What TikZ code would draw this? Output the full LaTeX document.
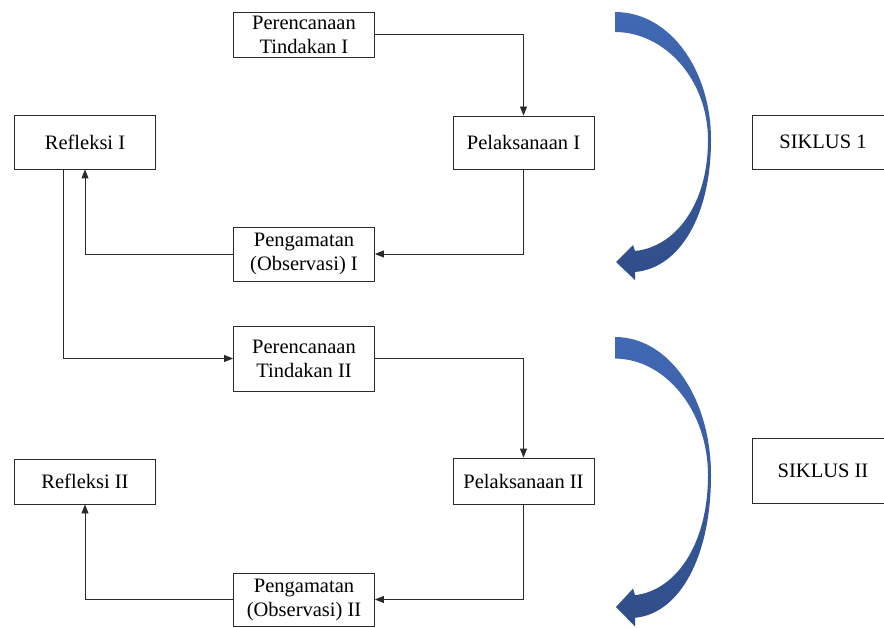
\documentclass[tikz,border=0pt]{standalone}
\usepackage{fontspec}
\setmainfont{Liberation Serif}
\definecolor{curvetop}{HTML}{4169B4}
\definecolor{curvebot}{HTML}{2F4D88}
\definecolor{edge}{HTML}{2A2A2A}
\usetikzlibrary{arrows.meta}
\newcommand{\cyclecurve}{(0,0) .. controls (55,0) and (96,58) .. (96,128) .. controls (96,203) and (65,256) .. (20,260) -- (20,268) -- (1,250) -- (18,233) -- (20,239) .. controls (60,235) and (93,193) .. (93,128) .. controls (93,68) and (50,20) .. (0,20) -- cycle}

\begin{document}
\begin{tikzpicture}[x=1pt, y=-1pt,
  box/.style={draw=edge, line width=0.8pt, minimum width=141pt, inner sep=0pt, align=center, font=\fontsize{20.5}{24}\selectfont},
  link/.style={draw=edge, line width=0.8pt, -{Triangle[length=9pt,width=7pt]}},
  curve/.style={top color=curvetop, bottom color=curvebot},
]
\useasboundingbox (0,0) rectangle (884,628);
\node[box, minimum height=45pt] (planI) at (304,34.5) {Perencanaan\\Tindakan I};
\node[box, minimum height=53pt] (actI) at (523.5,142.5) {Pelaksanaan I};
\node[box, minimum height=54pt] (reflI) at (85,142) {Refleksi I};
\node[box, minimum height=54pt] (obsI) at (304,254) {Pengamatan\\(Observasi) I};
\node[box, minimum height=54pt] (siklusI) at (823,142) {SIKLUS 1};
\node[box, minimum height=65pt] (planII) at (304,358.5) {Perencanaan\\Tindakan II};
\node[box, minimum height=46pt] (actII) at (523.5,481) {Pelaksanaan II};
\node[box, minimum height=45pt] (reflII) at (85,481.5) {Refleksi II};
\node[box, minimum height=53pt] (obsII) at (304,599.5) {Pengamatan\\(Observasi) II};
\node[box, minimum height=65pt] (siklusII) at (823,470.5) {SIKLUS II};

\draw[link] (planI.east) -| (actI.north);
\draw[link] (actI.south) |- (obsI.east);
\draw[link] (obsI.west) -| (reflI.south);
\draw[link] ([xshift=-22pt]reflI.south) |- (planII.west);
\draw[link] (planII.east) -| (actII.north);
\draw[link] (actII.south) |- (obsII.east);
\draw[link] (obsII.west) -| (reflII.south);

\begin{scope}[shift={(615,12)}]
\shade[curve] \cyclecurve;
\end{scope}
\begin{scope}[shift={(615,337)}, yscale=1.08]
\shade[curve] \cyclecurve;
\end{scope}
\end{tikzpicture}
\end{document}
